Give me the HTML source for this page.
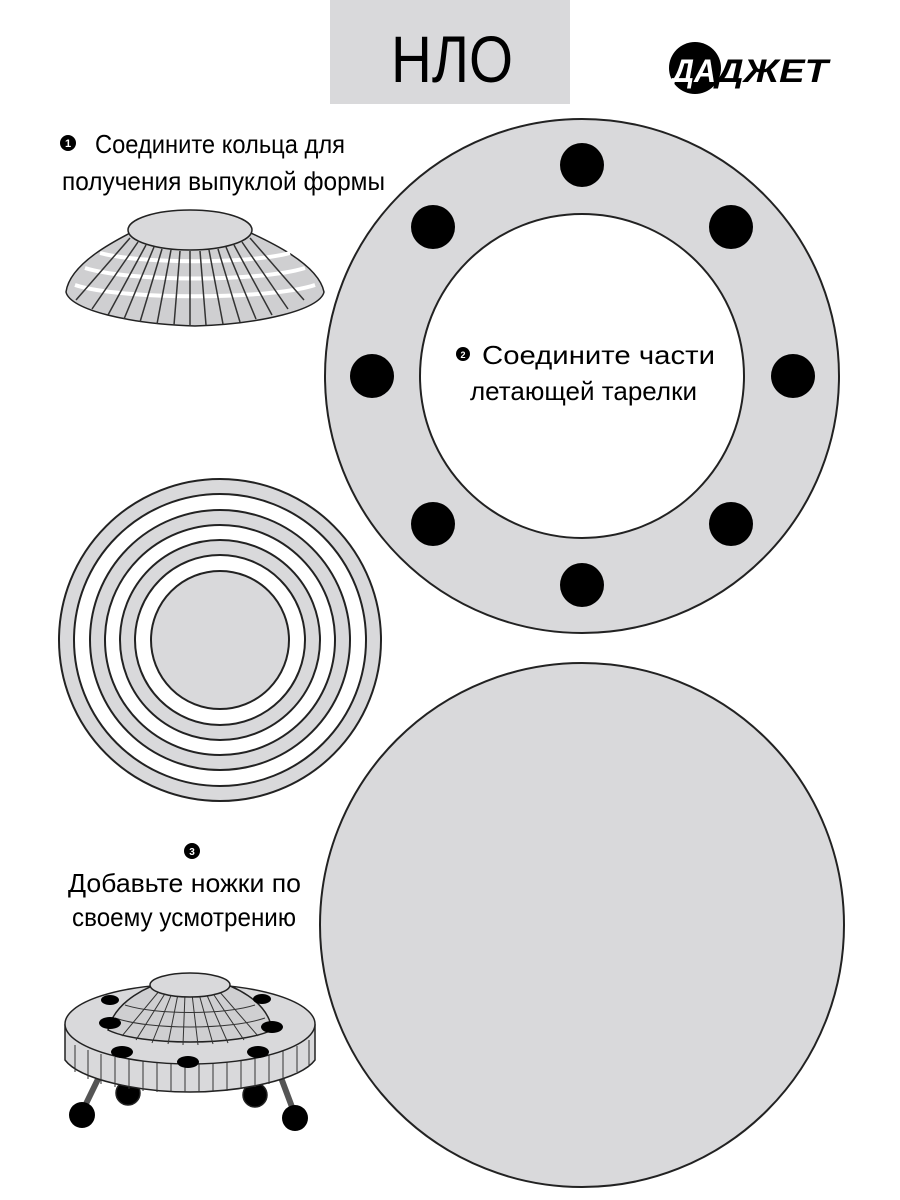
<!DOCTYPE html>
<html><head><meta charset="utf-8"><style>
html,body{margin:0;padding:0;background:#fff}
svg{display:block}
text{font-family:"Liberation Sans","DejaVu Sans",sans-serif}
</style></head><body>
<svg width="900" height="1200" viewBox="0 0 900 1200" xmlns="http://www.w3.org/2000/svg">
<rect x="330" y="0" width="240" height="104" fill="#d9d9db"/>
<text x="452" y="82" font-size="66" text-anchor="middle" textLength="122" lengthAdjust="spacingAndGlyphs" font-weight="300">НЛО</text>

<circle cx="695" cy="68" r="26" fill="#000"/>
<text x="672" y="82" font-size="32" font-weight="bold" font-style="italic" fill="#fff" textLength="44" lengthAdjust="spacingAndGlyphs">ДА</text>
<text x="716" y="82" font-size="32" font-weight="bold" font-style="italic" fill="#000" textLength="112" lengthAdjust="spacingAndGlyphs">ДЖЕТ</text>

<circle cx="68" cy="143" r="8" fill="#000"/>
<text x="68" y="147" font-size="11" fill="#fff" text-anchor="middle" font-weight="bold">1</text>
<text x="95" y="153" font-size="26" textLength="250" lengthAdjust="spacingAndGlyphs">Соедините кольца для</text>
<text x="62" y="190" font-size="26" textLength="323" lengthAdjust="spacingAndGlyphs">получения выпуклой формы</text>

<!-- top saucer -->
<g stroke="#222" stroke-width="1.5">
<path d="M66,292 C70,262 120,238 140,228 L240,228 C262,238 318,262 324,292 C320,310 260,324 195,326 C130,324 70,310 66,292 Z" fill="#cfcfd1"/>
<g stroke="#fff" stroke-width="4">
<path d="M75,285 C120,300 270,300 315,285" fill="none"/>
<path d="M85,268 C130,282 260,282 305,268" fill="none"/>
<path d="M100,253 C140,264 250,264 290,253" fill="none"/>
</g>
<g stroke="#333" stroke-width="1.5">
<line x1="130" y1="238" x2="76" y2="300"/><line x1="138" y1="242" x2="92" y2="309"/><line x1="146" y1="245" x2="108" y2="315"/><line x1="154" y1="247" x2="124" y2="319"/><line x1="162" y1="249" x2="140" y2="322"/><line x1="171" y1="250" x2="157" y2="324"/><line x1="180" y1="251" x2="174" y2="325"/><line x1="190" y1="251" x2="190" y2="326"/><line x1="200" y1="251" x2="206" y2="325"/><line x1="209" y1="250" x2="223" y2="324"/><line x1="218" y1="249" x2="240" y2="322"/><line x1="226" y1="247" x2="256" y2="319"/><line x1="234" y1="245" x2="272" y2="315"/><line x1="242" y1="242" x2="288" y2="309"/><line x1="250" y1="238" x2="304" y2="300"/>
</g>
<ellipse cx="190" cy="230" rx="62" ry="20" fill="#d9d9db" stroke="#222"/>
</g>

<!-- big ring -->
<circle cx="582" cy="376" r="257" fill="#d9d9db" stroke="#222" stroke-width="2"/>
<circle cx="582" cy="376" r="162" fill="#fff" stroke="#222" stroke-width="2"/>
<g fill="#000">
<circle cx="582" cy="165" r="22"/><circle cx="731" cy="227" r="22"/><circle cx="793" cy="376" r="22"/><circle cx="731" cy="524" r="22"/>
<circle cx="582" cy="585" r="22"/><circle cx="433" cy="524" r="22"/><circle cx="372" cy="376" r="22"/><circle cx="433" cy="227" r="22"/>
</g>
<circle cx="463" cy="354" r="7" fill="#000"/>
<text x="463" y="358" font-size="9" fill="#fff" text-anchor="middle" font-weight="bold">2</text>
<text x="482" y="364" font-size="26" textLength="233" lengthAdjust="spacingAndGlyphs">Соедините части</text>
<text x="470" y="400" font-size="26" textLength="227" lengthAdjust="spacingAndGlyphs">летающей тарелки</text>

<!-- concentric rings -->
<g stroke="#222" stroke-width="2">
<circle cx="220" cy="640" r="161" fill="#d9d9db"/>
<circle cx="220" cy="640" r="146" fill="#fff"/>
<circle cx="220" cy="640" r="130" fill="#d9d9db"/>
<circle cx="220" cy="640" r="115" fill="#fff"/>
<circle cx="220" cy="640" r="100" fill="#d9d9db"/>
<circle cx="220" cy="640" r="85" fill="#fff"/>
<circle cx="220" cy="640" r="69" fill="#d9d9db"/>
</g>

<!-- big disc -->
<circle cx="582" cy="925" r="262" fill="#d9d9db" stroke="#222" stroke-width="2"/>

<circle cx="192" cy="851" r="8" fill="#000"/>
<text x="192" y="855" font-size="10" fill="#fff" text-anchor="middle" font-weight="bold">3</text>
<text x="68" y="892" font-size="26" textLength="233" lengthAdjust="spacingAndGlyphs">Добавьте ножки по</text>
<text x="72" y="926" font-size="26" textLength="224" lengthAdjust="spacingAndGlyphs">своему усмотрению</text>

<!-- bottom UFO -->
<g stroke="#222" stroke-width="1.5">
<line x1="100" y1="1075" x2="82" y2="1112" stroke="#555" stroke-width="6"/>
<line x1="280" y1="1075" x2="295" y2="1115" stroke="#555" stroke-width="6"/>
<circle cx="128" cy="1093" r="12" fill="#000"/>
<circle cx="255" cy="1095" r="12" fill="#000"/>
<path d="M65,1025 L65,1060 C80,1080 140,1092 190,1092 C240,1092 300,1080 315,1060 L315,1025 Z" fill="#d9d9db"/>
<g stroke="#333" stroke-width="1">
<line x1="75" y1="1045" x2="75" y2="1072"/><line x1="88" y1="1050" x2="88" y2="1079"/><line x1="101" y1="1054" x2="101" y2="1084"/><line x1="115" y1="1057" x2="115" y2="1087"/><line x1="129" y1="1059" x2="129" y2="1089"/><line x1="143" y1="1061" x2="143" y2="1091"/><line x1="157" y1="1062" x2="157" y2="1092"/><line x1="171" y1="1063" x2="171" y2="1092"/><line x1="185" y1="1063" x2="185" y2="1092"/><line x1="199" y1="1063" x2="199" y2="1092"/><line x1="213" y1="1063" x2="213" y2="1092"/><line x1="227" y1="1062" x2="227" y2="1091"/><line x1="241" y1="1060" x2="241" y2="1089"/><line x1="255" y1="1058" x2="255" y2="1087"/><line x1="269" y1="1055" x2="269" y2="1084"/><line x1="283" y1="1051" x2="283" y2="1079"/><line x1="297" y1="1046" x2="297" y2="1072"/><line x1="309" y1="1040" x2="309" y2="1065"/>
</g>
<ellipse cx="190" cy="1024" rx="125" ry="40" fill="#d9d9db"/>
<path d="M108,1030 C115,1000 150,985 170,980 L212,980 C232,985 268,1000 272,1030 C240,1046 140,1046 108,1030 Z" fill="#cfcfd1"/>
<g stroke="#333" stroke-width="1">
<line x1="160" y1="990" x2="122" y2="1036"/><line x1="166" y1="992" x2="136" y2="1040"/><line x1="172" y1="993" x2="152" y2="1043"/><line x1="178" y1="994" x2="168" y2="1044"/><line x1="185" y1="994" x2="183" y2="1045"/><line x1="192" y1="994" x2="198" y2="1045"/><line x1="199" y1="994" x2="213" y2="1044"/><line x1="206" y1="993" x2="228" y2="1043"/><line x1="212" y1="992" x2="244" y2="1040"/><line x1="218" y1="990" x2="258" y2="1036"/>
<path d="M115,1018 C150,1030 230,1030 265,1018" fill="none"/>
<path d="M125,1005 C155,1015 225,1015 255,1005" fill="none"/>
</g>
<ellipse cx="190" cy="985" rx="40" ry="12" fill="#d9d9db"/>
</g>
<g fill="#000">
<ellipse cx="110" cy="1023" rx="11" ry="6"/><ellipse cx="272" cy="1027" rx="11" ry="6"/>
<ellipse cx="122" cy="1052" rx="11" ry="6"/><ellipse cx="258" cy="1052" rx="11" ry="6"/>
<ellipse cx="188" cy="1062" rx="11" ry="6"/><ellipse cx="110" cy="1000" rx="9" ry="5"/>
<ellipse cx="262" cy="999" rx="9" ry="5"/>
<circle cx="82" cy="1115" r="13"/><circle cx="295" cy="1118" r="13"/>
</g>
</svg>
</body></html>
